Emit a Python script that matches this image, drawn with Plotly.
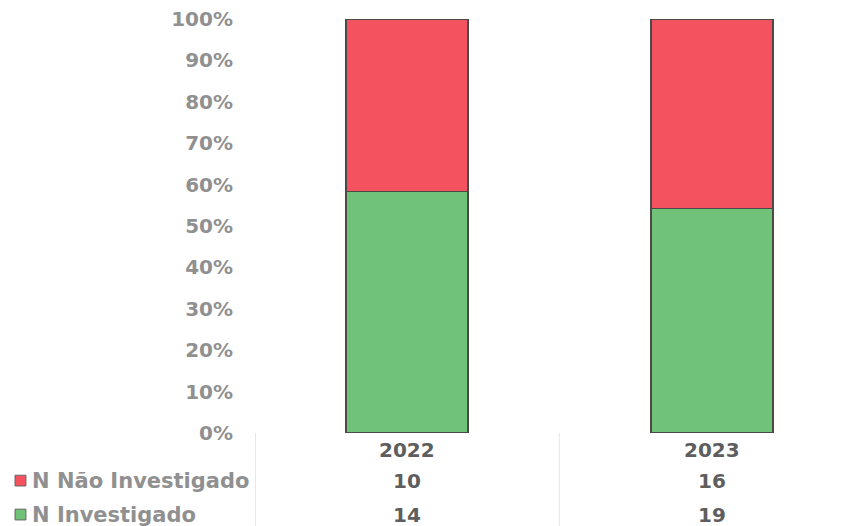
import plotly.graph_objects as go

years = ["2022", "2023"]
nao_investigado = [10, 16]
investigado = [14, 19]
series_labels = ["N Não Investigado", "N Investigado"]
tick_vals = [0, 10, 20, 30, 40, 50, 60, 70, 80, 90, 100]
tick_text = [f"{v}%" for v in tick_vals]

RED = "#f4525f"
GREEN = "#6fc278"
EDGE = "#4a4a4a"
GREY = "#909090"
TXT = "#5e5e5e"
FONT = "DejaVu Sans"

fig = go.Figure()
fig.add_trace(go.Bar(x=years, y=investigado, name=series_labels[1], marker=dict(color=GREEN, line=dict(color=EDGE, width=1.5)), width=0.4))
fig.add_trace(go.Bar(x=years, y=nao_investigado, name=series_labels[0], marker=dict(color=RED, line=dict(color=EDGE, width=1.5)), width=0.4))

fig.update_layout(
    width=861, height=526,
    margin=dict(l=255, r=0, t=19, b=93),
    barmode="stack", barnorm="percent",
    plot_bgcolor="white", paper_bgcolor="white",
    showlegend=False,
    font=dict(family=FONT),
    xaxis=dict(type="category", range=[-0.498, 1.489], showticklabels=False, showgrid=False, zeroline=False, showline=False, fixedrange=True),
    yaxis=dict(range=[0, 100], tickvals=tick_vals, ticktext=tick_text, showgrid=False, zeroline=False,
               showline=False, ticks="", ticklabelstandoff=21,
               tickfont=dict(family=FONT, size=20, color=GREY, weight="bold")),
)

# table: year headers and values
rows_y = [-0.041, -0.116, -0.198]
for i, yr in enumerate(years):
    for yy, txt in [(rows_y[0], yr), (rows_y[1], str(nao_investigado[i])), (rows_y[2], str(investigado[i]))]:
        fig.add_annotation(x=i, xref="x", y=yy, yref="paper", text=txt, showarrow=False,
                           font=dict(family=FONT, size=20, color=TXT, weight="bold"), yanchor="middle")

# legend labels in table
for lbl, col, yy in [(series_labels[0], RED, rows_y[1]), (series_labels[1], GREEN, rows_y[2])]:
    fig.add_annotation(x=-0.372, xref="paper", y=yy, yref="paper", text=lbl, showarrow=False, xanchor="left",
                       font=dict(family=FONT, size=21, color=GREY, weight="bold"), yanchor="middle")
    fig.add_shape(type="rect", xref="paper", yref="paper", x0=-0.396, x1=-0.378, y0=yy - 0.012, y1=yy + 0.014,
                  fillcolor=col, line=dict(color="#666", width=1))

# table vertical separators
fig.add_shape(type="line", xref="paper", yref="paper", x0=0.001, x1=0.001, y0=0, y1=-0.23,
              line=dict(color="#e6e6e6", width=1))
fig.add_shape(type="line", xref="x", yref="paper", x0=0.5, x1=0.5, y0=0, y1=-0.23,
              line=dict(color="#e6e6e6", width=1))

fig.write_html("out.html")
